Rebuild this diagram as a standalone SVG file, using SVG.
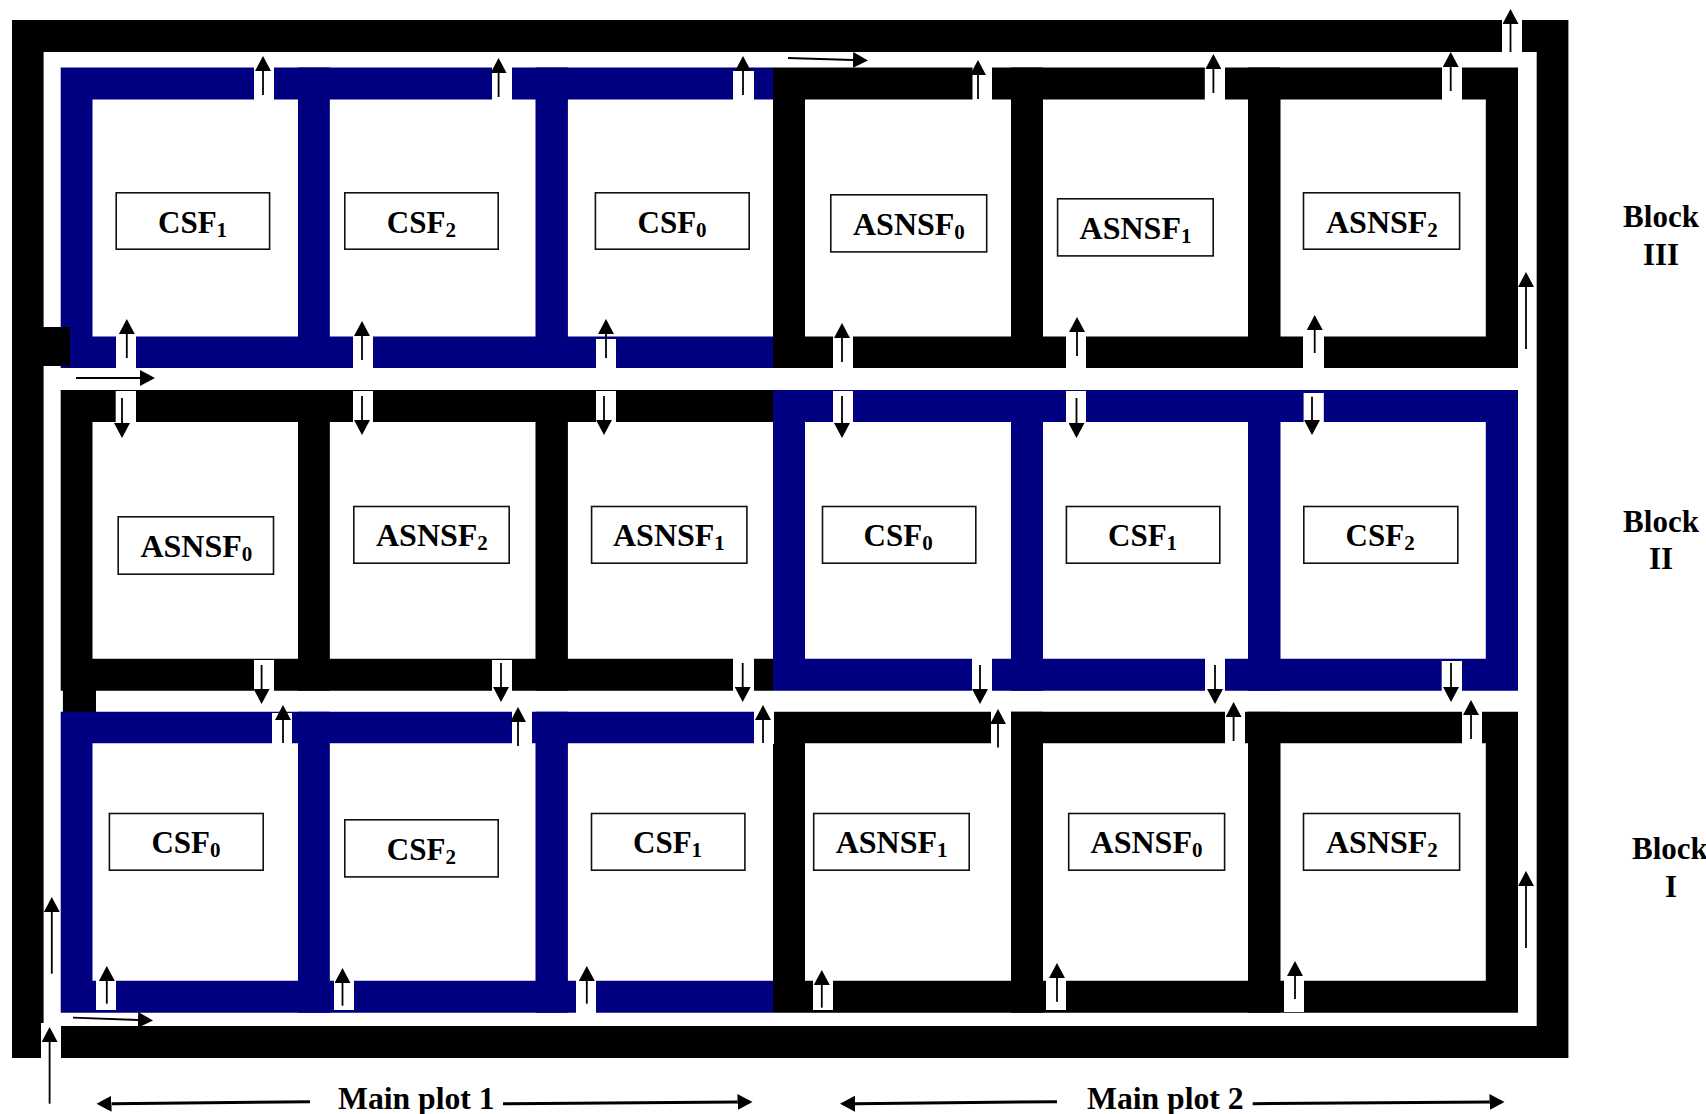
<svg xmlns="http://www.w3.org/2000/svg" width="1706" height="1114" viewBox="0 0 1706 1114">
<style>
.bk{fill:#000;fill-rule:evenodd}
.nv{fill:#000080;fill-rule:evenodd}
.gap{fill:#fff}
.box{fill:#fff;stroke:#111;stroke-width:1.6}
text{font-family:"Liberation Serif","Times New Roman",serif;font-weight:bold;font-size:31px;fill:#000}
.a{font-size:32px}
.m{font-size:31.7px}
.s{font-size:21px}
.ar{stroke:#000;stroke-width:1.8;fill:none;marker-end:url(#h)}
.ar2{stroke:#000;stroke-width:3;fill:none;marker-end:url(#h)}
</style>
<defs>
<marker id="h" markerUnits="userSpaceOnUse" markerWidth="16" markerHeight="16" refX="0" refY="8" orient="auto" viewBox="0 0 16 16"><path d="M0 0L15 8L0 16Z" fill="#000"/></marker>
</defs>
<rect width="1706" height="1114" fill="#fff"/>
<g id="field-walls">
<path class="bk" d="M12 20H1568.4V1058H61V1026H1536.7V52H43.6V1023H41V1058H12Z"/>
<rect class="bk" x="62.9" y="690" width="33.1" height="22"/>
</g>
<g id="block3-csf1"><path class="nv" d="M60.7 67.5H329.6V368H60.7ZM92.5 99.5H298V336.5H92.5Z"/><rect class="box" x="116.2" y="192.8" width="153.4" height="56.4"/><text x="158" y="233">CSF<tspan class="s" dy="4">1</tspan></text></g>
<g id="block3-csf2"><path class="nv" d="M298 67.5H567.7V368H298ZM329.6 99.5H535.7V336.5H329.6Z"/><rect class="box" x="344.8" y="192.8" width="153.4" height="56.4"/><text x="386.8" y="233">CSF<tspan class="s" dy="4">2</tspan></text></g>
<g id="block3-csf0"><path class="nv" d="M535.7 67.5H773V368H535.7ZM567.7 99.5H773V336.5H567.7Z"/><rect class="box" x="595.4" y="192.8" width="153.8" height="56.4"/><text x="637.5" y="233">CSF<tspan class="s" dy="4">0</tspan></text></g>
<g id="block3-asnsf0"><path class="bk" d="M773 67.5H1042.9V368H773ZM805 99.5H1011V336.5H805Z"/><rect class="box" x="830.8" y="194.8" width="155.9" height="57.1"/><text class="a" x="853" y="235">ASNSF<tspan class="s" dy="4">0</tspan></text></g>
<g id="block3-asnsf1"><path class="bk" d="M1011 67.5H1280.3V368H1011ZM1042.9 99.5H1248V336.5H1042.9Z"/><rect class="box" x="1057.6" y="198.8" width="155.6" height="57.1"/><text class="a" x="1079.6" y="239">ASNSF<tspan class="s" dy="4">1</tspan></text></g>
<g id="block3-asnsf2"><path class="bk" d="M1248 67.5H1518V368H1248ZM1280.3 99.5H1485.8V336.5H1280.3Z"/><rect class="box" x="1303.5" y="192.8" width="156.1" height="56.4"/><text class="a" x="1326" y="233">ASNSF<tspan class="s" dy="4">2</tspan></text></g>
<g id="block2-asnsf0"><path class="bk" d="M60.7 390H329.6V690.7H60.7ZM92.5 422H298V658.7H92.5Z"/><rect class="box" x="118.2" y="516.8" width="155.3" height="57.4"/><text class="a" x="140.4" y="556.7">ASNSF<tspan class="s" dy="4">0</tspan></text></g>
<g id="block2-asnsf2"><path class="bk" d="M298 390H567.7V690.7H298ZM329.6 422H535.7V658.7H329.6Z"/><rect class="box" x="353.8" y="506.5" width="155.4" height="56.7"/><text class="a" x="376" y="545.7">ASNSF<tspan class="s" dy="4">2</tspan></text></g>
<g id="block2-asnsf1"><path class="bk" d="M535.7 390H773V690.7H535.7ZM567.7 422H773V658.7H567.7Z"/><rect class="box" x="591.6" y="506.5" width="155.3" height="56.7"/><text class="a" x="613" y="545.7">ASNSF<tspan class="s" dy="4">1</tspan></text></g>
<g id="block2-csf0"><path class="nv" d="M773 390H1042.9V690.7H773ZM805 422H1011V658.7H805Z"/><rect class="box" x="822.5" y="506.5" width="153.3" height="56.7"/><text x="863.6" y="545.7">CSF<tspan class="s" dy="4">0</tspan></text></g>
<g id="block2-csf1"><path class="nv" d="M1011 390H1280.3V690.7H1011ZM1042.9 422H1248V658.7H1042.9Z"/><rect class="box" x="1066.4" y="506.5" width="153.4" height="56.7"/><text x="1108" y="545.7">CSF<tspan class="s" dy="4">1</tspan></text></g>
<g id="block2-csf2"><path class="nv" d="M1248 390H1518V690.7H1248ZM1280.3 422H1485.8V658.7H1280.3Z"/><rect class="box" x="1303.8" y="506.5" width="154" height="56.7"/><text x="1345.6" y="545.7">CSF<tspan class="s" dy="4">2</tspan></text></g>
<g id="block1-csf0"><path class="nv" d="M60.7 711.7H329.6V1012.7H60.7ZM92.5 743.3H298V980.7H92.5Z"/><rect class="box" x="109.4" y="813.5" width="153.8" height="56.7"/><text x="151.4" y="853">CSF<tspan class="s" dy="4">0</tspan></text></g>
<g id="block1-csf2"><path class="nv" d="M298 711.7H567.7V1012.7H298ZM329.6 743.3H535.7V980.7H329.6Z"/><rect class="box" x="344.8" y="819.8" width="153.4" height="57.1"/><text x="386.8" y="860">CSF<tspan class="s" dy="4">2</tspan></text></g>
<g id="block1-csf1"><path class="nv" d="M535.7 711.7H773V1012.7H535.7ZM567.7 743.3H773V980.7H567.7Z"/><rect class="box" x="591.5" y="813.5" width="153.4" height="56.7"/><text x="633" y="853">CSF<tspan class="s" dy="4">1</tspan></text></g>
<g id="block1-asnsf1"><path class="bk" d="M773 711.7H1042.9V1012.7H773ZM805 743.3H1011V980.7H805Z"/><rect class="box" x="813.7" y="813.5" width="155.5" height="56.7"/><text class="a" x="835.7" y="853">ASNSF<tspan class="s" dy="4">1</tspan></text></g>
<g id="block1-asnsf0"><path class="bk" d="M1011 711.7H1280.3V1012.7H1011ZM1042.9 743.3H1248V980.7H1042.9Z"/><rect class="box" x="1068.7" y="813.5" width="155.9" height="56.7"/><text class="a" x="1090.6" y="853">ASNSF<tspan class="s" dy="4">0</tspan></text></g>
<g id="block1-asnsf2"><path class="bk" d="M1248 711.7H1518V1012.7H1248ZM1280.3 743.3H1485.8V980.7H1280.3Z"/><rect class="box" x="1303.5" y="813.5" width="156.1" height="56.7"/><text class="a" x="1326" y="853">ASNSF<tspan class="s" dy="4">2</tspan></text></g>
<g id="wall-stub"><rect class="bk" x="43" y="327" width="27" height="39"/></g>
<g id="labels">
<text x="1661" y="226.7" text-anchor="middle">Block</text><text x="1661" y="265" text-anchor="middle">III</text>
<text x="1661" y="531.7" text-anchor="middle">Block</text><text x="1661" y="569" text-anchor="middle">II</text>
<text x="1632" y="859">Block</text><text x="1671" y="897" text-anchor="middle">I</text>
<text class="m" x="338" y="1109">Main plot 1</text>
<text class="m" x="1087" y="1109">Main plot 2</text>
</g>
<g id="connectors">
<g id="openings">
<rect class="gap" x="1502" y="20" width="20" height="32"/>
<rect class="gap" x="41" y="1023" width="20" height="35"/>
<rect class="gap" x="254" y="67" width="20" height="33"/>
<rect class="gap" x="492" y="67" width="20" height="33"/>
<rect class="gap" x="733" y="71" width="21" height="29"/>
<rect class="gap" x="972.5" y="67" width="19.5" height="33"/>
<rect class="gap" x="1204.8" y="67" width="20.2" height="33"/>
<rect class="gap" x="1442" y="67" width="20" height="33"/>
<rect class="gap" x="116" y="336" width="20" height="33"/>
<rect class="gap" x="353" y="336" width="20" height="33"/>
<rect class="gap" x="596" y="339" width="20" height="30"/>
<rect class="gap" x="833" y="336" width="20" height="33"/>
<rect class="gap" x="1066" y="336" width="20" height="33"/>
<rect class="gap" x="1303" y="336" width="21" height="33"/>
<rect class="gap" x="115.7" y="391" width="20.3" height="31"/>
<rect class="gap" x="353" y="391" width="20" height="31"/>
<rect class="gap" x="596" y="391" width="20" height="31"/>
<rect class="gap" x="833" y="391" width="20" height="31"/>
<rect class="gap" x="1066" y="391" width="20" height="31"/>
<rect class="gap" x="1303.6" y="393" width="20.2" height="29"/>
<rect class="gap" x="254" y="660" width="20" height="31"/>
<rect class="gap" x="492" y="660" width="20" height="31"/>
<rect class="gap" x="733" y="658" width="21" height="33"/>
<rect class="gap" x="972" y="658" width="20" height="33"/>
<rect class="gap" x="1205" y="658" width="20" height="33"/>
<rect class="gap" x="1441.7" y="661" width="20.3" height="30"/>
<rect class="gap" x="272" y="713" width="20" height="31"/>
<rect class="gap" x="512" y="711" width="20" height="33"/>
<rect class="gap" x="754" y="711" width="20" height="33"/>
<rect class="gap" x="991" y="711" width="20" height="33"/>
<rect class="gap" x="1225" y="711" width="20" height="33"/>
<rect class="gap" x="1462" y="711" width="20" height="33"/>
<rect class="gap" x="96" y="980" width="20" height="30"/>
<rect class="gap" x="334" y="980" width="20" height="30"/>
<rect class="gap" x="576" y="980" width="20" height="33"/>
<rect class="gap" x="813" y="980" width="20" height="30"/>
<rect class="gap" x="1046" y="980" width="20" height="30"/>
<rect class="gap" x="1284" y="980" width="20" height="32"/>
</g>
<path class="ar" d="M1510.5 52V24"/>
<path class="ar" d="M263 95V71"/>
<path class="ar" d="M498.6 97V73"/>
<path class="ar" d="M743 95V71"/>
<path class="ar" d="M978 99V75"/>
<path class="ar" d="M1213.4 93V69"/>
<path class="ar" d="M1450.7 91V67"/>
<path class="ar" d="M126.8 358V334"/>
<path class="ar" d="M362 360V336"/>
<path class="ar" d="M606 358V334"/>
<path class="ar" d="M842 362V338"/>
<path class="ar" d="M1077 356V332"/>
<path class="ar" d="M1314.7 353V330"/>
<path class="ar" d="M1526 349V287"/>
<path class="ar" d="M788 58L853 60"/>
<path class="ar" d="M76 378H140"/>
<path class="ar" d="M122 398V423"/>
<path class="ar" d="M362 396V420"/>
<path class="ar" d="M604 396V420"/>
<path class="ar" d="M842 396V423"/>
<path class="ar" d="M1076.5 398V423"/>
<path class="ar" d="M1312 396.7V420"/>
<path class="ar" d="M261.6 665V689"/>
<path class="ar" d="M501 663V687"/>
<path class="ar" d="M742.7 663V687"/>
<path class="ar" d="M980 665V689"/>
<path class="ar" d="M1215 665V689"/>
<path class="ar" d="M1451 663V687"/>
<path class="ar" d="M283 743V720"/>
<path class="ar" d="M518 746V722"/>
<path class="ar" d="M763 743V720"/>
<path class="ar" d="M998 747.6V724"/>
<path class="ar" d="M1233.6 741V717"/>
<path class="ar" d="M1471 739V715"/>
<path class="ar" d="M106.8 1003.7V981"/>
<path class="ar" d="M342.5 1005.7V983"/>
<path class="ar" d="M586.8 1003.7V981"/>
<path class="ar" d="M821.8 1007.7V985"/>
<path class="ar" d="M1057 1001.7V978"/>
<path class="ar" d="M1295 999V976"/>
<path class="ar" d="M1526 948V886"/>
<path class="ar" d="M51.8 973.7V912"/>
<path class="ar" d="M73 1017.7L138 1020"/>
<path class="ar" d="M49.6 1103.7V1042"/>
<path class="ar2" d="M310 1101.7L111.5 1103.7"/>
<path class="ar2" d="M503 1103.7L737.5 1102"/>
<path class="ar2" d="M1057 1101.7L855 1103.7"/>
<path class="ar2" d="M1252.7 1103.7L1489.5 1102"/>
</g>
</svg>
